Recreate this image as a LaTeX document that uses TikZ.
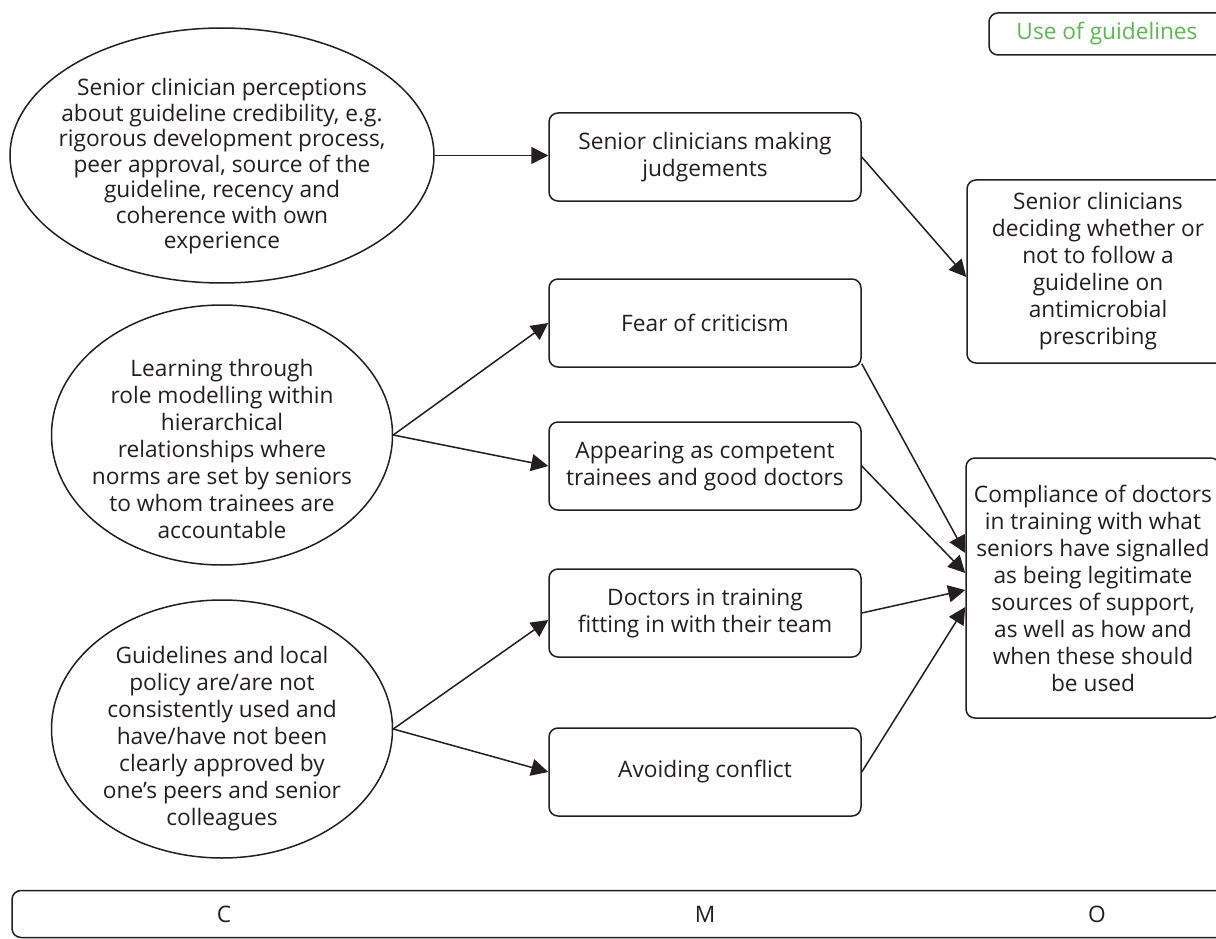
\documentclass[tikz,border=0pt]{standalone}
\usepackage{fontspec}
\setmainfont{Open Sans}
\usetikzlibrary{arrows.meta,shapes.geometric}
\definecolor{ink}{RGB}{35,31,32}
\definecolor{lgreen}{RGB}{92,184,80}
\begin{document}
\begin{tikzpicture}[x=1pt,y=-1pt,
  txt/.style={font=\fontsize{22.7}{27}\selectfont, text=ink, align=center, inner sep=0pt},
  oval/.style={draw=ink, ellipse, line width=1.5pt, inner sep=0pt},
  rbox/.style={draw=ink, rounded corners=9pt, line width=1.5pt, inner sep=0pt,
    font=\fontsize{22.7}{27}\selectfont, text=ink, align=center},
  midbox/.style={rbox, minimum width=312pt, minimum height=88pt},
  conn/.style={draw=ink, line width=1.5pt, -{Triangle[length=17pt,width=17pt]}}]
\useasboundingbox (0,0) rectangle (1216,939);

% ellipses (context)
\node[oval, minimum width=424pt, minimum height=255pt] (E1) at (222,155.5) {};
\node[txt, font=\fontsize{22.7}{25.5}\selectfont] at ([yshift=-11pt]E1.center) {Senior clinician perceptions\\about guideline credibility, e.g.\\rigorous development process,\\peer approval, source of the\\guideline, recency and\\coherence with own\\experience};
\node[oval, minimum width=341pt, minimum height=260pt] (E2) at (222,435) {};
\node[txt] at ([yshift=-14pt]E2.center) {Learning through\\role modelling within\\hierarchical\\relationships where\\norms are set by seniors\\to whom trainees are\\accountable};
\node[oval, minimum width=341pt, minimum height=258pt] (E3) at (222,729) {};
\node[txt] at ([yshift=-10pt]E3.center) {Guidelines and local\\policy are/are not\\consistently used and\\have/have not been\\clearly approved by\\one’s peers and senior\\colleagues};

% mechanisms
\node[midbox] (J) at (705,157) {Senior clinicians making\\judgements};
\node[midbox] (F) at (705,323) {Fear of criticism};
\node[midbox] (A) at (705,466) {Appearing as competent\\trainees and good doctors};
\node[midbox] (D) at (705,613) {Doctors in training\\fitting in with their team};
\node[midbox] (V) at (705,772) {Avoiding conflict};

% outcomes
\node[rbox, minimum width=262pt, minimum height=183pt] (R1) at (1098,271.5) {Senior clinicians\\deciding whether or\\not to follow a\\guideline on\\antimicrobial\\prescribing};
\node[rbox, minimum width=254pt, minimum height=260pt] (R2) at (1093,588) {Compliance of doctors\\in training with what\\seniors have signalled\\as being legitimate\\sources of support,\\as well as how and\\when these should\\be used};

% legend boxes
\node[rbox, minimum width=242pt, minimum height=42pt] (U) at (1110,34) {};
\node[txt, text=lgreen] (Ut) at (1107,34) {Use of guidelines};
\node[rbox, minimum width=1220pt, minimum height=47pt] (B) at (622,914) {};
\node[txt] (C) at (224,914) {C};
\node[txt] (M) at (705,914) {M};
\node[txt] (O) at (1097,914) {O};

% connectors
\draw[conn] (E1.east) -- (E1.east -| J.west);
\draw[conn] (J.east) -- ([yshift=-5.5pt]R1.west);
\draw[conn] (E2.east) -- (F.west);
\draw[conn] (E2.east) -- (A.west);
\draw[conn] (E3.east) -- ([yshift=-7pt]D.west);
\draw[conn] (E3.east) -- (V.west);
\draw[conn] ([yshift=4pt]F.south east) -- ([yshift=35pt]R2.west);
\draw[conn] (A.east) -- ([yshift=15pt]R2.west);
\draw[conn] (D.east) -- ([yshift=-2pt]R2.west);
\draw[conn] (V.east) -- ([yshift=-19pt]R2.west);
\end{tikzpicture}
\end{document}
